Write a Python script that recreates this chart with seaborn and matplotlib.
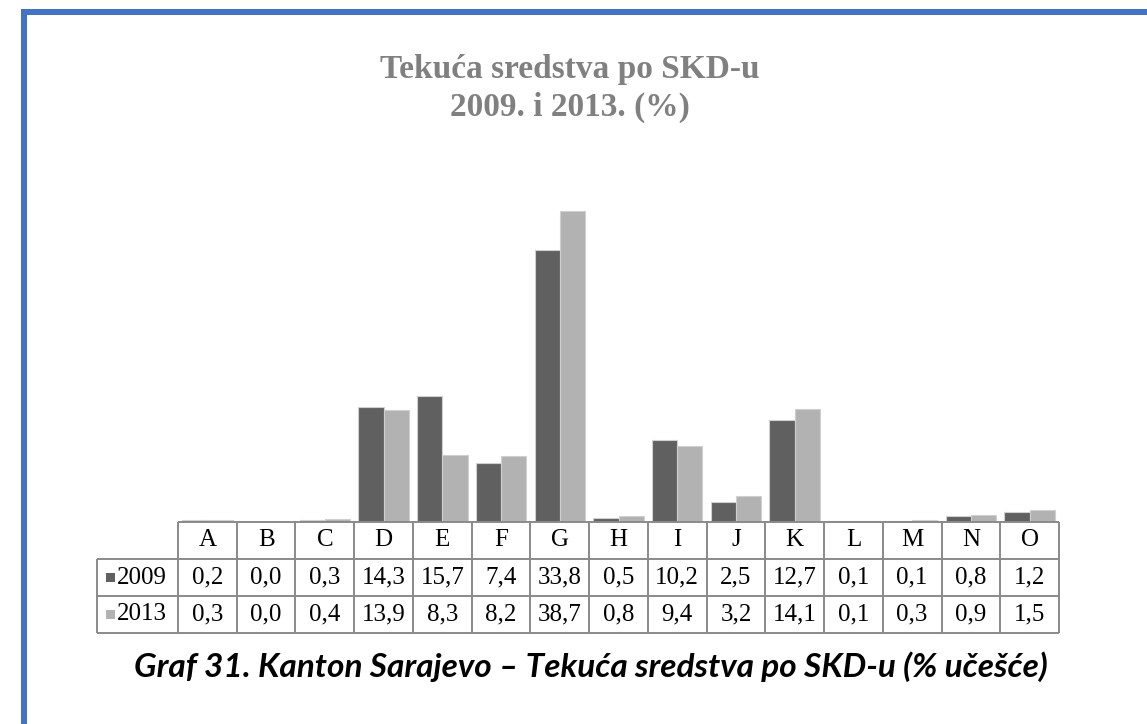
"""
Tekuca sredstva po SKD-u, 2009 vs 2013 - bar chart with data table underneath
"""

import matplotlib
matplotlib.use("Agg")
import matplotlib.pyplot as plt
from matplotlib.patches import Rectangle
import seaborn as sns
import pandas as pd

sns.set_theme(style="white")
plt.rcParams["font.family"] = ["Liberation Serif", "DejaVu Sans"]

categories = ["A", "B", "C", "D", "E", "F", "G", "H", "I", "J", "K", "L", "M", "N", "O"]
years = ["2009", "2013"]
vals_2009 = [0.2, 0.0, 0.3, 14.3, 15.7, 7.4, 33.8, 0.5, 10.2, 2.5, 12.7, 0.1, 0.1, 0.8, 1.2]
vals_2013 = [0.3, 0.0, 0.4, 13.9, 8.3, 8.2, 38.7, 0.8, 9.4, 3.2, 14.1, 0.1, 0.3, 0.9, 1.5]
colors = ["#606060", "#b2b2b2"]

title_1 = "Tekuća sredstva po SKD-u"
title_2 = "2009. i 2013. (%)"
caption = "Graf 31. Kanton Sarajevo – Tekuća sredstva po SKD-u (% učešće)"

df = pd.DataFrame({"cat": categories, "2009": vals_2009, "2013": vals_2013})
long_df = df.melt(id_vars="cat", value_vars=years, var_name="year", value_name="val")

W, H = 1147, 724
fig = plt.figure(figsize=(W / 100, H / 100), dpi=100)
fig.patch.set_facecolor("white")


def px_box(x0, y0, x1, y1):
    # pixel box (top-left origin) -> figure fraction [left, bottom, width, height]
    return [x0 / W, 1 - y1 / H, (x1 - x0) / W, (y1 - y0) / H]


# ---------------------------------------------------------------
# bars
# ---------------------------------------------------------------
ax = fig.add_axes(px_box(178, 200.4, 1059, 522))
sns.barplot(data=long_df, x="cat", y="val", hue="year", palette=colors,
            saturation=1, width=0.86, edgecolor="#d0d0d0", linewidth=0.8,
            legend=False, ax=ax)
ax.set_xlim(-0.5, len(categories) - 0.5)
ax.set_ylim(0, 40)
ax.axis("off")

# ---------------------------------------------------------------
# data table
# ---------------------------------------------------------------
col_w = (1059 - 178) / len(categories)
left = -0.5 - (178 - 97) / col_w
right = len(categories) - 0.5
tx = fig.add_axes(px_box(97, 522, 1059, 633))
tx.set_xlim(left, right)
tx.set_ylim(3, 0)
tx.axis("off")

line_kw = dict(color="#8a8a8a", lw=1.4, clip_on=False)
tx.hlines(0, -0.5, right, **line_kw)
tx.hlines([1, 2, 3], left, right, **line_kw)
tx.vlines([i - 0.5 for i in range(len(categories) + 1)], 0, 3, **line_kw)
tx.vlines(left, 1, 3, **line_kw)

cell_font = 18
for i, c in enumerate(categories):
    tx.text(i, 0.5, c, ha="center", va="center", fontsize=cell_font, color="black")
for r, vals in enumerate([vals_2009, vals_2013], start=1):
    for i, v in enumerate(vals):
        tx.text(i, r + 0.5, f"{v:.1f}".replace(".", ","), ha="center", va="center",
                fontsize=cell_font, color="black")
    # legend key + year label
    tx.add_patch(Rectangle((left + 9 / col_w, r + 0.5 - 4.5 / 37), 9 / col_w, 9 / 37,
                           facecolor=colors[r - 1], edgecolor="none"))
    tx.text(left + 20 / col_w, r + 0.5, years[r - 1], ha="left", va="center",
            fontsize=cell_font, color="black")

# ---------------------------------------------------------------
# titles, caption, blue frame
# ---------------------------------------------------------------
fig.text(570 / W, 1 - 78 / H, title_1, ha="center", va="baseline",
         fontsize=24, fontweight="bold", color="#808080")
fig.text(570 / W, 1 - 116 / H, title_2, ha="center", va="baseline",
         fontsize=24, fontweight="bold", color="#808080")
fig.text(591 / W, 1 - 677 / H, caption, ha="center", va="baseline",
         fontsize=24, fontweight="bold", style="italic", color="black",
         family=["Lato", "DejaVu Sans"])

blue = "#4472c4"
fig.patches.append(Rectangle((21 / W, 1 - 15 / H), 1 - 21 / W, 6 / H,
                             transform=fig.transFigure, facecolor=blue, edgecolor="none"))
fig.patches.append(Rectangle((21 / W, 0), 6 / W, 1 - 9 / H,
                             transform=fig.transFigure, facecolor=blue, edgecolor="none"))

fig.savefig("out.png", dpi=100, facecolor="white")
plt.close(fig)
